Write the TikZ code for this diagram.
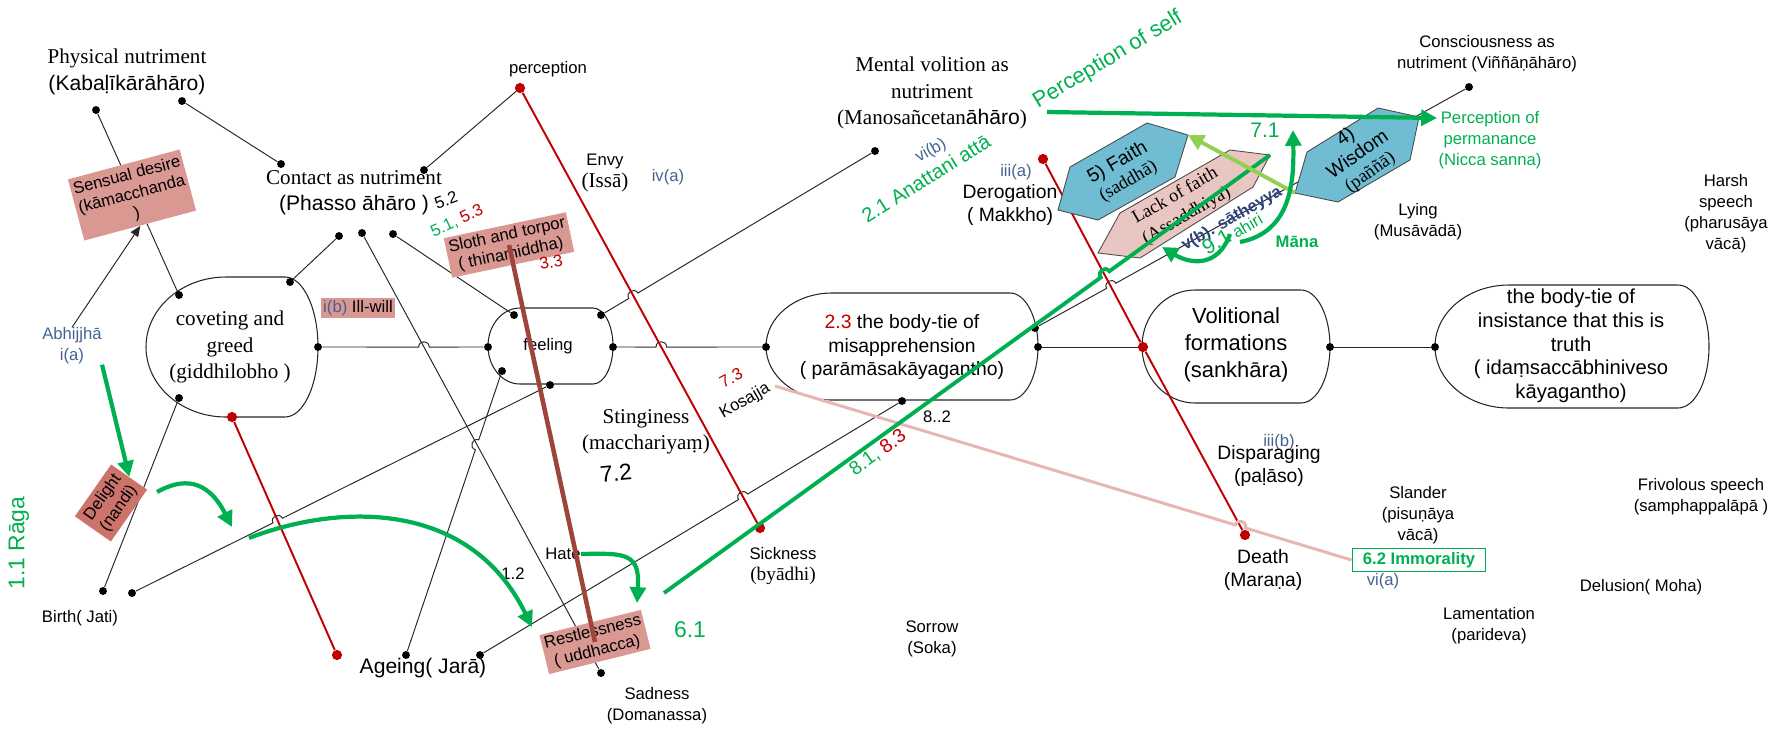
\documentclass[tikz,border=0pt]{standalone}
\usepackage{fontspec}
\setmainfont{Liberation Sans}
\newfontfamily\serifrm{Liberation Serif}
\usepackage{xcolor}
\usetikzlibrary{positioning,arrows.meta,calc}

\definecolor{salmon}{RGB}{218,152,147}
\definecolor{salmondark}{RGB}{204,116,108}
\definecolor{tiered}{RGB}{192,0,0}
\definecolor{offgreen}{RGB}{0,176,80}
\definecolor{lightgreen}{RGB}{146,208,80}
\definecolor{labelblue}{RGB}{68,98,145}
\definecolor{darkblue}{RGB}{45,68,120}
\definecolor{hexblue}{RGB}{112,188,210}
\definecolor{hexpink}{RGB}{234,198,194}
\definecolor{pinkline}{RGB}{232,182,177}
\definecolor{brownline}{RGB}{158,68,60}

% L a b R T B : left arc, flat top from a to b, right arc
\newcommand{\tieshape}[6]{%
  \pgfmathsetmacro{\tsm}{(#5+#6)/2}
  \pgfmathsetmacro{\tsa}{#2-0.552*(#2-#1)}
  \pgfmathsetmacro{\tsb}{#3+0.552*(#4-#3)}
  \pgfmathsetmacro{\tst}{\tsm-0.552*(\tsm-#5)}
  \pgfmathsetmacro{\tsB}{\tsm+0.552*(#6-\tsm)}
  \draw[tie shape] (#2,#5) -- (#3,#5) .. controls (\tsb,#5) and (#4,\tst) .. (#4,\tsm)
    .. controls (#4,\tsB) and (\tsb,#6) .. (#3,#6) -- (#2,#6)
    .. controls (\tsa,#6) and (#1,\tsB) .. (#1,\tsm)
    .. controls (#1,\tst) and (\tsa,#5) .. cycle;
}

% line #2 -> #3 with a small jump where it crosses #4 -- #5
\newcommand{\hopline}[5]{%
  \coordinate (hopc) at (intersection of #2--#3 and #4--#5);
  \coordinate (hopa) at ($(hopc)!3pt!(#2)$);
  \coordinate (hopb) at ($(hopc)!3pt!(#3)$);
  \draw[#1] (#2) -- (hopa) .. controls ($(hopa)!4pt!90:(hopb)$) and ($(hopb)!4pt!-90:(hopa)$) .. (hopb) -- (#3);
}

\begin{document}
\begin{tikzpicture}[
    x=0.02cm, y=-0.02cm,
    dot node/.style={circle, fill=black, inner sep=0pt, minimum size=4.5pt},
    red dot/.style={circle, fill=tiered, inner sep=0pt, minimum size=5.8pt},
    link/.style={draw=black!85, line width=0.55pt},
    red link/.style={draw=tiered, line width=1.1pt},
    green line/.style={draw=offgreen, line width=2.2pt},
    green arrow/.style={draw=offgreen, line width=2.4pt, -{Triangle[length=9pt, width=9pt]}},
    small text/.style={font=\fontsize{9.5}{12}\selectfont, align=center, inner sep=0pt},
    mid text/.style={font=\fontsize{11}{13.5}\selectfont, align=center, inner sep=0pt},
    serif text/.style={font=\fontsize{12}{15}\selectfont\serifrm, align=center, inner sep=0pt},
    roman label/.style={font=\fontsize{9.5}{12}\selectfont, text=labelblue, inner sep=0pt},
    hindrance/.style={fill=salmon, font=\fontsize{9.5}{11}\selectfont, align=center, inner sep=1.5pt},
    tie shape/.style={draw=black!85, line width=0.6pt},
    hexagon/.style={draw=black!70, line width=0.5pt}
]
\useasboundingbox (0,0) rectangle (1791,728);

% the five ties
\tieshape{146}{226}{285}{318}{277}{417}
\tieshape{488}{520}{593}{613}{308}{384}
\tieshape{766}{832}{1010}{1038}{293}{400}
\tieshape{1142}{1195}{1301}{1330}{290}{403}
\tieshape{1435}{1509}{1678}{1709}{285}{408}

\node[serif text] (covtext) at (230,347) {coveting and\\greed\\(giddhilobho )};
\node[small text] (feeltext) at (548,346) {feeling};
\node[mid text] (mistext) at (902,347) {\textcolor{tiered}{2.3} the body-tie of\\misapprehension\\( parāmāsakāyagantho)};
\node[font=\fontsize{12.5}{15.5}\selectfont, align=center, inner sep=0pt] (voltext) at (1236,345) {Volitional\\formations\\(sankhāra)};
\node[font=\fontsize{11.5}{13.5}\selectfont, align=center, inner sep=0pt] (instext) at (1571,346) {the body-tie of\\insistance that this is\\truth\\( idaṃsaccābhiniveso\\kāyagantho)};

% dots
\node[dot node] (phyA) at (96,110) {};
\node[dot node] (phyB) at (182,101) {};
\node[dot node] (conB) at (281,164) {};
\node[dot node] (conA) at (424,170) {};
\node[dot node] (conC) at (339,236) {};
\node[dot node] (conD) at (362,233) {};
\node[dot node] (conE) at (393,234) {};
\node[red dot] (percep) at (520,88) {};
\node[dot node] (covTL) at (179,295) {};
\node[dot node] (covTR) at (290,282) {};
\node[dot node] (covR) at (318,347) {};
\node[dot node] (covBL) at (179,398) {};
\node[red dot] (covB) at (232,417) {};
\node[dot node] (feeL) at (488,347) {};
\node[dot node] (feeTL) at (514,315) {};
\node[dot node] (feeTR) at (601,315) {};
\node[dot node] (feeR) at (613,347) {};
\node[dot node] (feeBL) at (502,371) {};
\node[dot node] (feeB) at (550,385) {};
\node[dot node] (manA) at (875,151) {};
\node[dot node] (misL) at (766,347) {};
\node[dot node] (misR) at (1038,347) {};
\node[dot node] (misTR) at (1035,328) {};
\node[dot node] (misB) at (902,401) {};
\node[red dot] (volL) at (1143,347) {};
\node[dot node] (volR) at (1330,347) {};
\node[dot node] (insL) at (1435,347) {};
\node[dot node] (conscA) at (1469,87) {};
\node[red dot] (derog) at (1043,159) {};
\node[red dot] (death) at (1245,535) {};
\node[red dot] (sick) at (760,528) {};
\node[red dot] (ageR) at (337,655) {};
\node[dot node] (ageA) at (406,655) {};
\node[dot node] (ageB) at (480,655) {};
\node[dot node] (birA) at (103,591) {};
\node[dot node] (birB) at (132,593) {};
\node[dot node] (sadn) at (601,673) {};

% black links
\draw[link] (phyA) -- (covTL);
\draw[link] (phyB) -- (conB);
\draw[link] (conA) -- (percep);
\draw[link] (covTR) -- (conC);
\draw[link] (conD) -- (sadn);
\draw[link] (conE) -- (feeTL);
\hopline{link}{covR}{feeL}{conD}{sadn}
\hopline{link}{feeTR}{manA}{percep}{sick}
\hopline{link}{feeR}{misL}{percep}{sick}
\draw[link] (misR) -- (volL);
\draw[link] (volR) -- (insL);
\hopline{link}{misTR}{conscA}{derog}{death}
\hopline{link}{ageB}{misB}{percep}{sick}
\hopline{link}{ageA}{feeBL}{conD}{sadn}
\hopline{link}{birB}{feeB}{covB}{ageR}
\draw[link] (covBL) -- (birA);

% red links
\draw[red link] (percep) -- (sick);
\draw[red link] (covB) -- (ageR);
\draw[red link] (derog) -- (volL) -- (death);

% texts
\node[serif text] (phys) at (127,72) {Physical nutriment\\{\fontspec{Liberation Sans}(Kabaḷīkārāhāro)}};
\node[serif text] (contact) at (354,193) {Contact as nutriment\\{\fontspec{Liberation Sans}(Phasso āhāro )}};
\node[serif text] (mental) at (932,93) {Mental volition as\\nutriment\\(Manosañcetan{\fontspec{Liberation Sans}āhāro})};
\node[small text] (conscious) at (1487,54) {Consciousness as\\nutriment (Viññāṇāhāro)};
\node[small text] (perception) at (548,69) {perception};
\node[align=center, inner sep=0pt] (envy) at (605,173) {{\fontsize{9.5}{12}\selectfont Envy}\\{\fontsize{12}{14}\selectfont\serifrm (Issā)}};
\node[roman label] (iva) at (668,177) {iv(a)};
\node[roman label, align=center] (abhijjha) at (72,346) {Abhijjhā\\i(a)};
\node[small text] (birth) at (80,618) {Birth( Jati)};
\node[font=\fontsize{12}{14}\selectfont, inner sep=0pt] (ageing) at (423,668) {Ageing( Jarā)};
\node[serif text] (stingy) at (646,432) {Stinginess\\(macchariyaṃ)};
\node[font=\fontsize{13}{15}\selectfont, inner sep=0pt, rotate=5] (sevtwo) at (616,473) {7.2};
\node[align=center, inner sep=0pt] (sickness) at (783,566) {{\fontsize{9.5}{12}\selectfont Sickness}\\{\fontsize{11}{13}\selectfont\serifrm (byādhi)}};
\node[small text] (sadness) at (657,706) {Sadness\\(Domanassa)};
\node[small text] (sorrow) at (932,639) {Sorrow\\(Soka)};
\node[roman label] (iiia) at (1016,172) {iii(a)};
\node[mid text] (derogation) at (1010,205) {Derogation\\( Makkho)};
\node[roman label] (iiib) at (1279,442) {iii(b)};
\node[mid text] (disparaging) at (1269,466) {Disparaging\\(paḷāso)};
\node[mid text] (deathtext) at (1263,570) {Death\\(Maraṇa)};
\node[small text] (lying) at (1418,222) {Lying\\(Musāvādā)};
\node[small text] (harsh) at (1726,214) {Harsh\\speech\\(pharusāya\\vācā)};
\node[small text] (slander) at (1418,515) {Slander\\(pisuṇāya\\vācā)};
\node[small text] (frivolous) at (1701,497) {Frivolous speech\\(samphappalāpā )};
\node[small text] (delusion) at (1641,587) {Delusion( Moha)};
\node[small text] (lament) at (1489,626) {Lamentation\\(parideva)};
\node[draw=offgreen, line width=0.8pt, text=offgreen, font=\fontsize{9.5}{11}\selectfont\bfseries, minimum width=76pt, minimum height=13pt, inner sep=1pt] (immoral) at (1419,560) {6.2 Immorality};
\node[roman label] (via) at (1383,581) {vi(a)};
\node[small text, text=offgreen] (perm) at (1490,140) {Perception of\\permanance\\(Nicca sanna)};
\node[font=\fontsize{9.5}{11}\selectfont, inner sep=0pt] (hate) at (563,554) {Hate};
\node[font=\fontsize{9.5}{11}\selectfont, inner sep=0pt] (onetwo) at (513,574) {1.2};
\node[font=\fontsize{9.5}{11}\selectfont, inner sep=0pt] (eighttwo) at (937,417) {8..2};
\node[font=\fontsize{9.5}{11}\selectfont, inner sep=0pt, rotate=20] (fivetwo) at (446,200) {5.2};
\node[font=\fontsize{9.5}{11}\selectfont, inner sep=0pt, rotate=25] (fiveone) at (457,221) {\textcolor{offgreen}{5.1,} \textcolor{tiered}{5.3}};
\node[font=\fontsize{9.5}{11}\selectfont, text=tiered, inner sep=0pt, rotate=28] (seventhree) at (731,378) {7.3};
\node[font=\fontsize{9.5}{11}\selectfont, inner sep=0pt, rotate=30] (kosajja) at (745,401) {Kosajja};
\node[font=\fontsize{13}{15}\selectfont, text=offgreen, inner sep=0pt, rotate=90] (raga) at (19,543) {1.1 Rāga};
\node[font=\fontsize{13}{15}\selectfont, text=offgreen, inner sep=0pt] (sixone) at (690,630) {6.1};
\node[font=\fontsize{12.5}{15}\selectfont, text=offgreen, inner sep=0pt, rotate=31] (selfp) at (1108,60) {Perception of self};
\node[font=\fontsize{11.5}{14}\selectfont, text=offgreen, inner sep=0pt, rotate=32] (anattani) at (926,178) {2.1 Anattani attā};
\node[roman label, rotate=30] (vib) at (931,151) {vi(b)};

% pink link from Kosajja to immorality
\coordinate (kosend) at (775,386);
\hopline{draw=pinkline, line width=1.7pt}{kosend}{immoral.west}{derog}{death}

% hexagons
\draw[hexagon, fill=hexpink] (1098,253) -- (1120,213) -- (1230,150) -- (1270,155) -- (1253,187) -- (1140,258) -- cycle;
\coordinate (lackNE) at (1270,155);
\draw[hexagon, fill=hexblue] (1058,210) -- (1070,167) -- (1147,123) -- (1188,135) -- (1175,177) -- (1098,220) -- cycle;
\coordinate (faithE) at (1188,135);
\draw[hexagon, fill=hexblue] (1295,193) -- (1307,152) -- (1378,108) -- (1419,117) -- (1410,160) -- (1338,202) -- cycle;
\coordinate (wisSW) at (1295,193);
\node[align=center, inner sep=0pt, rotate=30] (faith) at (1123,172) {{\fontsize{11}{13}\selectfont 5) Faith}\\{\fontsize{10.5}{12}\selectfont\serifrm (saddhā)}};
\node[align=center, inner sep=0pt, rotate=30, font=\fontsize{10.5}{13}\selectfont\serifrm] (lack) at (1181,206) {Lack of faith\\(Assaddhiya)};
\node[align=center, inner sep=0pt, rotate=35] (wisdom) at (1358,155) {{\fontsize{11}{13}\selectfont 4)}\\{\fontsize{11}{13}\selectfont Wisdom}\\{\fontsize{10.5}{12}\selectfont\serifrm (paññā)}};
\node[font=\fontsize{9.5}{11}\selectfont\bfseries, text=darkblue, inner sep=0pt, rotate=30] (vbsat) at (1232,219) {v(b). sātheyya};
\node[font=\fontsize{9.5}{11}\selectfont, text=offgreen, inner sep=0pt, rotate=30] (ahiri) at (1232,233) {{\fontsize{12}{12}\selectfont 9.1} ahiri};
\node[font=\fontsize{9.5}{11}\selectfont\bfseries, text=offgreen, inner sep=0pt] (mana) at (1297,242) {Māna};
\node[font=\fontsize{12}{14}\selectfont, text=offgreen, inner sep=0pt] (sevenone) at (1265,130) {7.1};

% hindrance boxes
\node[hindrance, rotate=15, minimum width=64pt, minimum height=36pt] (sensual) at (132,195) {Sensual desire\\(kāmacchanda\\)};
\node[hindrance, rotate=12, minimum width=71pt, minimum height=23pt] (sloth) at (509,245) {Sloth and torpor\\( thinamiddha)};
\node[hindrance, rotate=14, minimum width=59pt, minimum height=22pt] (restl) at (595,642) {Restlessness\\( uddhacca)};
\node[hindrance, fill=salmondark, rotate=55, minimum width=36pt, minimum height=25pt] (delight) at (111,503) {Delight\\(nandi)};
\node[hindrance, font=\fontsize{9.5}{11}\selectfont] (illwill) at (358,308) {\textcolor{labelblue}{i(b)} Ill-will};
\node[font=\fontsize{9.5}{11}\selectfont, text=tiered, inner sep=0pt, rotate=10] (threethree) at (551,262) {3.3};

% brown link sloth to restlessness
\draw[draw=brownline, line width=2.6pt] (sloth.center) -- (restl.center);

% black arrow
\draw[link, -{Triangle[length=6pt, width=5pt]}] (abhijjha.north) -- (sensual.south);

% green links and arrows
\coordinate (gstart) at (664,593);
\hopline{green line}{gstart}{lackNE}{derog}{death}
\node[font=\fontsize{11}{13}\selectfont, inner sep=0pt, rotate=36] (eightone) at (878,453) {\textcolor{offgreen}{8.1,} \textcolor{tiered}{8.3}};
\coordinate (selfstart) at (1047,112);
\coordinate (permtip) at (1437,118);
\draw[green arrow] (selfstart) -- (permtip);
\draw[green arrow] (abhijjha.south east) -- (delight.east);
\coordinate (dcurve) at (157,492);
\coordinate (dtip) at (232,527);
\draw[green arrow] (dcurve) .. controls (182,478) and (207,478) .. (dtip);
\coordinate (bigstart) at (249,538);
\coordinate (bigtip) at (532,627);
\draw[green arrow] (bigstart) .. controls (340,503) and (470,500) .. (bigtip);
\coordinate (htip) at (637,603);
\draw[green arrow] (hate.east) .. controls (626,553) and (640,553) .. (htip);
\draw[draw=lightgreen, line width=2.2pt, -{Triangle[length=9pt, width=9pt]}] (wisSW) -- (faithE);
\coordinate (manastart) at (1240,242);
\coordinate (manatip) at (1293,130);
\draw[green arrow] (manastart) .. controls (1292,232) and (1294,180) .. (manatip);
\coordinate (ahiristart) at (1230,234);
\coordinate (ahiritip) at (1162,247);
\draw[green arrow] (ahiristart) .. controls (1218,268) and (1190,264) .. (ahiritip);

\end{tikzpicture}
\end{document}
